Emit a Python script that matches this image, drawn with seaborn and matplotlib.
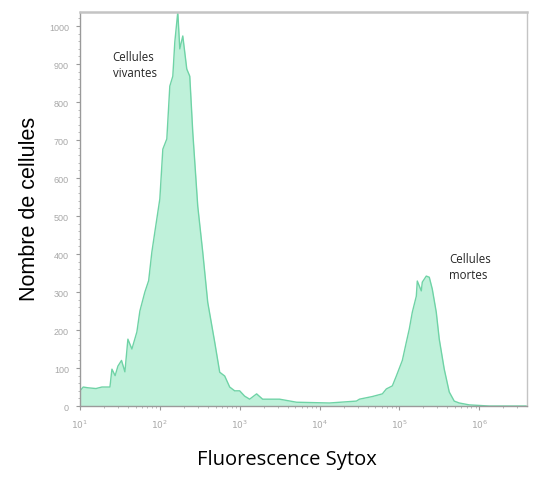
import numpy as np
import pandas as pd
import matplotlib
matplotlib.use("Agg")
import matplotlib.pyplot as plt
import seaborn as sns
from matplotlib.ticker import FixedLocator, LogLocator, MultipleLocator, NullFormatter

# histogramme Sytox : position en décades (log10) et nombre de cellules
log_fluo = [1.00, 1.04, 1.10, 1.20, 1.275, 1.375, 1.40, 1.44, 1.475, 1.52, 1.5625, 1.60,
            1.65, 1.7125, 1.75, 1.8125, 1.86, 1.90, 1.9375, 2.00, 2.0375, 2.0875, 2.125,
            2.1625, 2.1875, 2.225, 2.25, 2.2875, 2.3375, 2.375, 2.4125, 2.475, 2.5375,
            2.60, 2.6875, 2.75, 2.8125, 2.875, 2.9375, 3.00, 3.0625, 3.125, 3.2125,
            3.2875, 3.50, 3.7125, 4.125, 4.4625, 4.50, 4.6625, 4.7875, 4.8375, 4.9125,
            4.9625, 5.0375, 5.0875, 5.125, 5.1625, 5.2125, 5.225, 5.275, 5.2875, 5.3375,
            5.375, 5.4125, 5.4625, 5.50, 5.5625, 5.625, 5.6875, 5.75, 5.875, 6.125, 6.59]
counts = [40, 50, 48, 46, 50, 50, 97, 80, 105, 120, 90, 176,
          150, 195, 250, 300, 330, 405, 458, 545, 676, 703, 842,
          868, 958, 1037, 940, 974, 887, 868, 721, 526, 405,
          273, 168, 89, 79, 50, 40, 40, 26, 18, 32,
          18, 18, 10, 8, 13, 18, 25, 32, 45, 53,
          79, 120, 168, 203, 247, 289, 329, 303, 326, 342,
          339, 308, 247, 176, 97, 37, 13, 8, 3, 0, 0]

y_ticks = [0, 100, 200, 300, 400, 500, 600, 700, 800, 900, 1000]
x_ticks = [1e1, 1e2, 1e3, 1e4, 1e5, 1e6]
x_tick_labels = ["$10^1$", "$10^2$", "$10^3$", "$10^4$", "$10^5$", "$10^6$"]

df = pd.DataFrame({"fluo": 10 ** np.array(log_fluo), "n": counts})

sns.set_style("white")
plt.rcParams["font.family"] = ["Liberation Sans", "DejaVu Sans"]

fig = plt.figure(figsize=(5.54, 4.81), dpi=100)
ax = fig.add_axes([0.1444, 0.1538, 0.8070, 0.8191])

ax.fill_between(df["fluo"], df["n"], color="#bff1da", lw=0)
sns.lineplot(data=df, x="fluo", y="n", ax=ax, color="#6fd3a6", lw=1.0)

ax.set_xscale("log")
ax.set_xlim(10, 10 ** 6.6)
ax.set_ylim(0, 1037)

ax.xaxis.set_major_locator(FixedLocator(x_ticks))
ax.set_xticklabels(x_tick_labels)
ax.xaxis.set_minor_locator(LogLocator(base=10, subs=np.arange(2, 10)))
ax.xaxis.set_minor_formatter(NullFormatter())
ax.set_yticks(y_ticks)
ax.yaxis.set_minor_locator(MultipleLocator(20))

ax.tick_params(axis="both", which="major", direction="out", length=3, width=0.8,
               color="#9a9a9a", labelcolor="#a8a8a8", labelsize=6.5, pad=5,
               bottom=True, left=True)
ax.tick_params(axis="both", which="minor", direction="out", length=1.5, width=0.6,
               color="#b0b0b0", bottom=True, left=True)
for name, sp in ax.spines.items():
    sp.set_color("#c4c4c4")
    sp.set_linewidth(1.0)
ax.spines["top"].set_linewidth(1.8)
ax.spines["left"].set_color("#9a9a9a")
ax.spines["bottom"].set_color("#9a9a9a")

ax.set_xlabel("")
ax.set_ylabel("")
fig.text(0.054, 0.565, "Nombre de cellules", rotation=90, ha="center", va="center",
         fontsize=15.5, color="black")
fig.text(0.518, 0.043, "Fluorescence Sytox", ha="center", va="center",
         fontsize=14.5, color="black", family=["Open Sans", "DejaVu Sans"])

ax.text(10 ** 1.41, 938, "Cellules\nvivantes", fontsize=8.3, ha="left", va="top",
        linespacing=1.35, family=["Open Sans", "DejaVu Sans"])
ax.text(10 ** 5.62, 406, "Cellules\nmortes", fontsize=8.3, ha="left", va="top",
        linespacing=1.35, family=["Open Sans", "DejaVu Sans"])

fig.savefig("out.png", dpi=100)
